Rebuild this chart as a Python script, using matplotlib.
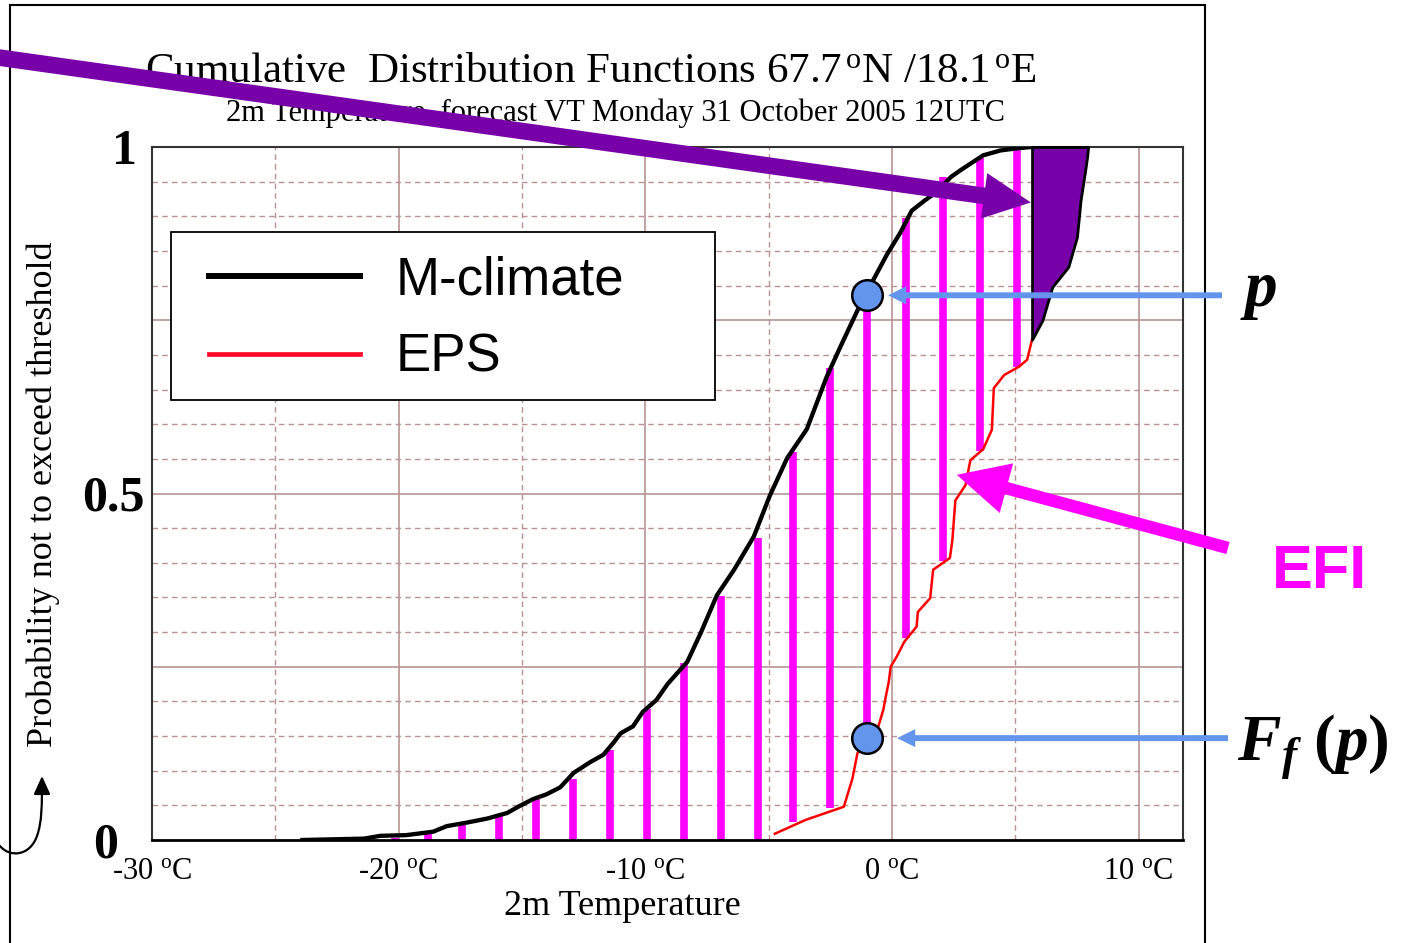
import numpy as np
import matplotlib
matplotlib.use('Agg')
import matplotlib.pyplot as plt
import matplotlib.transforms as mtransforms
from matplotlib.patches import ConnectionPatch, FancyArrowPatch, Rectangle
from matplotlib.path import Path
from matplotlib.lines import Line2D

# M-climate CDF (temperature degC, probability)
mclim_t = [-23.9, -21.4, -20.75, -19.7, -18.6, -18.05, -17.25, -16.4, -15.6, -15.1,
           -14.55, -14.0, -13.45, -12.9, -12.25, -11.7, -11.3, -11.0, -10.5, -10.1,
           -9.55, -9.1, -8.3, -7.75, -7.1, -6.4, -5.6, -4.95, -4.25, -3.45,
           -2.65, -2.1, -1.4, -0.85, -0.2, 0.35, 0.8, 1.3, 1.8, 2.4,
           2.8, 3.7, 4.4, 5.05, 5.65]
mclim_p = [0.0, 0.002, 0.006, 0.007, 0.012, 0.02, 0.025, 0.031, 0.039, 0.049,
           0.059, 0.066, 0.076, 0.097, 0.112, 0.123, 0.14, 0.154, 0.164, 0.185,
           0.202, 0.225, 0.257, 0.299, 0.353, 0.39, 0.438, 0.497, 0.551, 0.593,
           0.668, 0.711, 0.764, 0.802, 0.845, 0.877, 0.908, 0.922, 0.935, 0.957,
           0.967, 0.988, 0.995, 0.998, 1.0]

# EPS forecast CDF
eps_t = [-4.75, -3.5, -1.95, -1.6, -1.4, -1.0, -0.55, -0.35, -0.25, -0.13,
         -0.05, 0.2, 0.5, 1.0, 1.05, 1.55, 1.67, 2.35, 2.45, 2.57,
         2.98, 3.18, 3.7, 4.05, 4.13, 4.55, 5.15, 5.48, 5.68, 6.1,
         6.5, 7.15, 7.5, 7.65, 7.85, 7.92, 7.95]
eps_p = [0.009, 0.029, 0.048, 0.089, 0.125, 0.147, 0.164, 0.188, 0.207, 0.228,
         0.25, 0.265, 0.286, 0.308, 0.329, 0.349, 0.39, 0.407, 0.433, 0.49,
         0.512, 0.548, 0.564, 0.592, 0.652, 0.671, 0.683, 0.693, 0.722, 0.75,
         0.798, 0.827, 0.87, 0.924, 0.97, 0.988, 1.0]

# EFI bars between the two CDFs
bar_t = [-20.15, -18.8, -17.45, -15.95, -14.45, -12.95, -11.45, -9.95, -8.45, -6.95,
         -5.45, -4.0, -2.5, -1.0, 0.55, 2.05, 3.55, 5.05]
bar_top = [0.003, 0.011, 0.023, 0.037, 0.06, 0.088, 0.13, 0.189, 0.255, 0.352,
           0.436, 0.56, 0.681, 0.786, 0.898, 0.957, 0.984, 1.0]
bar_bottom = [0, 0, 0, 0, 0, 0, 0, 0, 0, 0,
              0, 0.026, 0.046, 0.147, 0.291, 0.403, 0.562, 0.682]

# marked quantile
quant_t = -1.0
p_val = 0.786
ff_val = 0.147
shade_from = 5.68  # start of the shaded tail

xticks = [-30, -20, -10, 0, 10]
xtick_labels = ['-30 $^{\\rm o}$C', '-20 $^{\\rm o}$C', '-10 $^{\\rm o}$C',
                '0 $^{\\rm o}$C', '10 $^{\\rm o}$C']
xminor = [-25, -15, -5, 5]
yticks = [0, 0.5, 1]
ytick_labels = ['0', '0.5', '1']
ytick_offsets = [-34, -7, -15]  # px, right edge of each label
ymajor = [0.25, 0.5, 0.75]
yminor = [0.05 * i for i in range(1, 20) if i % 5]

plt.rcParams['mathtext.fontset'] = 'custom'
plt.rcParams['mathtext.rm'] = 'Liberation Serif'
plt.rcParams['mathtext.it'] = 'Liberation Serif:italic'
plt.rcParams['mathtext.bf'] = 'Liberation Serif:bold'
plt.rcParams['mathtext.bfit'] = 'Liberation Serif:italic:bold'

serif = 'Liberation Serif'
sans = 'Liberation Sans'
grid_col = '#B99393'
magenta = '#FF00FF'
blue = '#6495ED'
purple = '#7800A8'

W, H = 1404, 943
fig = plt.figure(figsize=(W / 100, H / 100), dpi=100)
ax = fig.add_axes([152 / W, 1 - 840 / H, (1183 - 152) / W, (840 - 147) / H])

ax.set_xlim(-30, 11.8)
ax.set_ylim(0, 1)
ax.set_xticks(xticks)
ax.set_xticklabels(xtick_labels, family=serif, size=22)
ax.set_xticks(xminor, minor=True)
ax.set_yticks(ymajor)
ax.set_yticks(yminor, minor=True)
ax.tick_params(which='both', length=0)
ax.tick_params(axis='x', pad=12)
ax.tick_params(axis='y', labelleft=False)
ax.grid(which='major', color=grid_col, ls='-', lw=1.2)
ax.grid(which='minor', color=grid_col, ls=(0, (4, 3)), lw=1.0)
ax.set_axisbelow(True)
for side in ['left', 'top', 'right']:
    ax.spines[side].set_color('#333333')
    ax.spines[side].set_linewidth(1.5)
ax.spines['bottom'].set_color('black')
ax.spines['bottom'].set_linewidth(2)

# y labels as texts so each can sit where it does in the original
for v, lab, off in zip(yticks, ytick_labels, ytick_offsets):
    tr = mtransforms.offset_copy(ax.get_yaxis_transform(), fig=fig, x=off, y=-17, units='dots')
    ax.text(0, v, lab, transform=tr, ha='right', va='baseline', family=serif,
            weight='bold', size=36, clip_on=False)

ax.vlines(bar_t, bar_bottom, bar_top, color=magenta, lw=5.5, zorder=2, capstyle='butt')
ax.plot(mclim_t, mclim_p, color='black', lw=3.1, zorder=3)
ax.plot(eps_t, eps_p, color='red', lw=1.8, zorder=3)

eps_t_arr = np.array(eps_t)
eps_p_arr = np.array(eps_p)
sel = eps_t_arr >= shade_from
ax.fill_between(eps_t_arr[sel], eps_p_arr[sel], 1, facecolor=purple, edgecolor='black',
                lw=2, zorder=4, clip_on=False)

ax.plot([quant_t, quant_t], [p_val, ff_val], 'o', ms=22, mfc=blue, mec='black', mew=1.8,
        zorder=6, clip_on=False)

# legend
ax.add_patch(Rectangle(((171 - 152) / 1031, (840 - 400) / 693), (715 - 171) / 1031,
                       (400 - 232) / 693, transform=ax.transAxes, facecolor='white',
                       edgecolor='black', lw=1.3, zorder=4))
handles = [Line2D([], [], color='black', lw=4.3), Line2D([], [], color='#FF0A28', lw=3.4)]
leg = ax.legend(handles, ['M-climate', 'EPS'], loc='center left',
                bbox_to_anchor=((209 - 152) / 1031, (840 - 319) / 693), frameon=False,
                prop={'family': sans, 'size': 38}, handlelength=2.86, handletextpad=0.68,
                labelspacing=0.53, borderpad=0, borderaxespad=0)
leg.set_zorder(5)

# texts
fig.text(591 / W, 1 - 82 / H,
         'Cumulative  Distribution Functions 67.7$^{\\,\\rm o}$N /18.1$^{\\,\\rm o}$E',
         ha='center', va='baseline', family=serif, size=31)
fig.text(616 / W, 1 - 121 / H, '2m Temperature  forecast VT Monday 31 October 2005 12UTC',
         ha='center', va='baseline', family=serif, size=22)
fig.text(622 / W, 1 - 915 / H, '2m Temperature', ha='center', va='baseline',
         family=serif, size=26)
fig.text(43 / W, 1 - 494 / H, 'Probability not to exceed threshold', rotation=90,
         ha='center', va='center', family=serif, size=26)
fig.text(1272 / W, 1 - 588 / H, 'EFI', color=magenta, weight='bold', family=sans,
         size=44, va='baseline')
fig.text(1240 / W, 1 - 306 / H, r'$\mathbfit{p}$', size=47, va='baseline')
fig.text(1237 / W, 1 - 761 / H, r'$\mathbfit{F}_{\mathbfit{f}}\ \mathbf{(}\mathbfit{p}\mathbf{)}$',
         size=47, va='baseline')

# arrows
fig_x_data_y = mtransforms.blended_transform_factory(fig.transFigure, ax.transData)
for yv, tail_x, shrink in [(p_val, 1222, 15), (ff_val, 1228, 21.5)]:
    fig.add_artist(ConnectionPatch(xyA=(tail_x / W, yv), coordsA=fig_x_data_y,
                                   xyB=(quant_t, yv), coordsB=ax.transData,
                                   arrowstyle='simple,head_length=13,head_width=13,tail_width=4.3',
                                   mutation_scale=1, shrinkA=0, shrinkB=shrink,
                                   color=blue, lw=0, zorder=8))
fig.add_artist(ConnectionPatch(xyA=(1228 / W, 1 - 548 / H), coordsA='figure fraction',
                               xyB=(2.63, 0.527), coordsB=ax.transData,
                               arrowstyle='simple,head_length=37,head_width=37,tail_width=9',
                               mutation_scale=1, shrinkA=0, shrinkB=0,
                               color=magenta, lw=0, zorder=8))
fig.add_artist(ConnectionPatch(xyA=(-5 / W, 1 - 57 / H), coordsA='figure fraction',
                               xyB=(5.63, 0.92), coordsB=ax.transData,
                               arrowstyle='simple,head_length=34,head_width=33,tail_width=12',
                               mutation_scale=1, shrinkA=0, shrinkB=0,
                               color=purple, lw=0, zorder=9))

# curved arrow bottom-left
pts = [(0, 846), (10, 858), (30, 856), (37, 836), (42, 822), (42, 805), (42, 776)]
verts = [(x / W, 1 - y / H) for x, y in pts]
codes = [Path.MOVETO] + [Path.CURVE4] * 6
fig.add_artist(FancyArrowPatch(path=Path(verts, codes),
                               arrowstyle='-|>,head_length=11,head_width=5',
                               mutation_scale=1, lw=1.6, color='black',
                               transform=fig.transFigure, zorder=7))

# outer frame
fig.add_artist(Rectangle((10 / W, -0.05), (1205 - 10) / W, 1 - 5 / H + 0.05,
                         transform=fig.transFigure, fill=False, ec='black', lw=1.5))

fig.savefig('out.png', dpi=100)
